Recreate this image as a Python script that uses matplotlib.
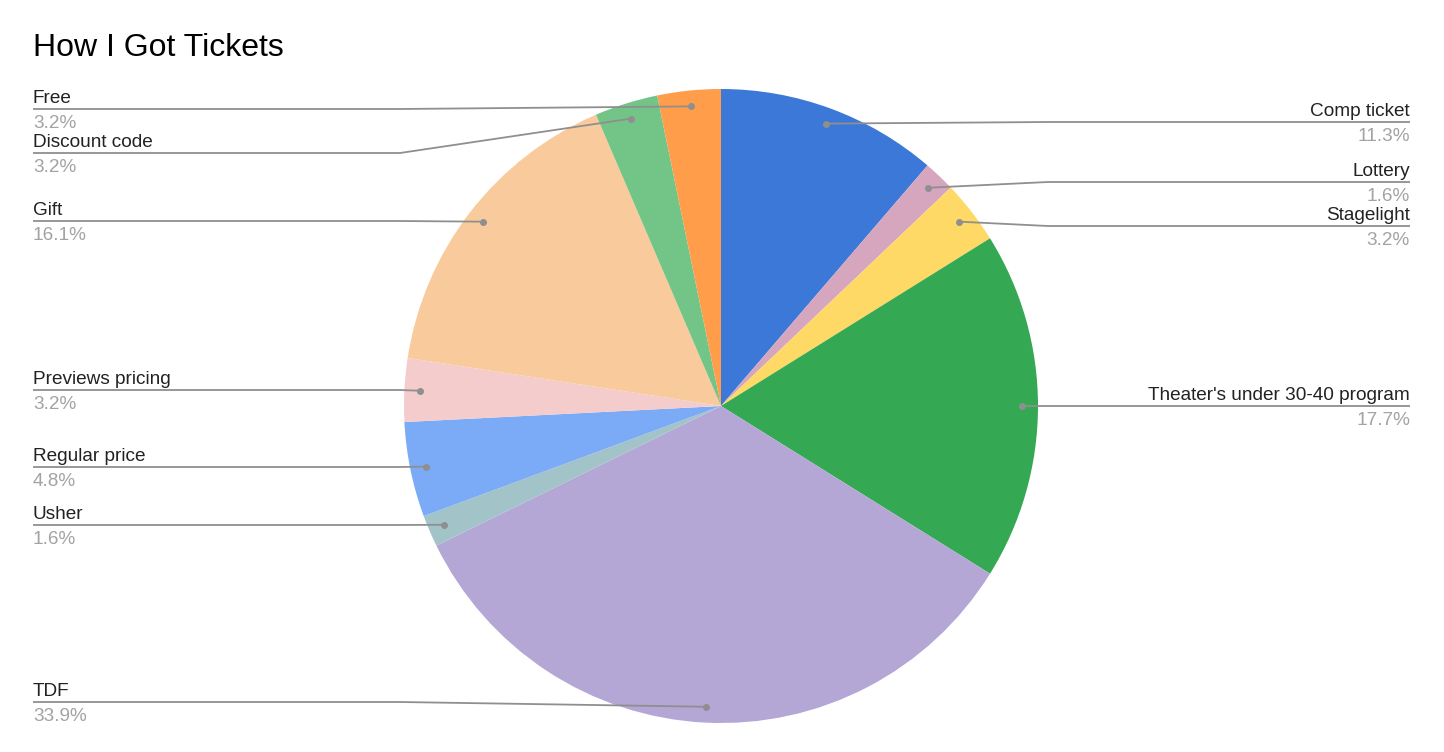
import numpy as np
import matplotlib.pyplot as plt

plt.rcParams['font.family'] = ['Liberation Sans', 'DejaVu Sans']

# ticket counts (out of 62), clockwise from 12 o'clock
labels = ["Comp ticket", "Lottery", "Stagelight", "Theater's under 30-40 program",
          "TDF", "Usher", "Regular price", "Previews pricing", "Gift",
          "Discount code", "Free"]
counts = [7, 1, 2, 11, 21, 1, 3, 2, 10, 2, 2]
colors = ["#3c78d8", "#d5a6bd", "#ffd966", "#34a853", "#b4a7d6", "#a2c4c9",
          "#7baaf7", "#f4cccc", "#f9cb9c", "#73c487", "#ff9d4b"]

# label line height (pixels from top) for each slice
label_y = [122, 182, 226, 406, 702, 525, 467, 390, 221, 153, 109]

W, H = 1444, 752
cx, cy, R = 721, 406, 317

fig = plt.figure(figsize=(W / 100, H / 100), dpi=100)
ax = fig.add_axes([0, 0, 1, 1])

def fy(y):
    # pixel row -> data y
    return H - y

ax.pie(counts, colors=colors, startangle=90, counterclock=False,
       center=(cx, fy(cy)), radius=R, wedgeprops=dict(linewidth=0))

total = sum(counts)
cum = 0
line_col = "#8f8f8f"
for name, c, ly in zip(labels, counts, label_y):
    mid = (cum + c / 2) / total * 2 * np.pi
    cum += c
    dx = 0.95 * R * np.sin(mid)
    dy = 0.95 * R * np.cos(mid)
    px, py = cx + dx, cy - dy
    right = dx > 0
    if right:
        elbow, end, ha = 1048, 1410, 'right'
    else:
        elbow, end, ha = 400, 33, 'left'
    ax.plot([px, elbow, end], [fy(py), fy(ly), fy(ly)], color=line_col,
            lw=1.3, solid_capstyle='butt', zorder=3)
    ax.plot(px, fy(py), 'o', color=line_col, ms=4, zorder=4)
    ax.text(end, fy(ly - 6), name, ha=ha, va='baseline', fontsize=13.7,
            color="#222222")
    pct = f"{c / total * 100:.1f}%"
    ax.text(end, fy(ly + 19), pct, ha=ha, va='baseline', fontsize=13.7,
            color="#a3a3a3")

ax.text(33, fy(56), "How I Got Tickets", ha='left', va='baseline',
        fontsize=23, color="#000000")

ax.set_xlim(0, W)
ax.set_ylim(0, H)
ax.set_aspect('equal')
ax.axis('off')

plt.savefig("out.png", dpi=100)
